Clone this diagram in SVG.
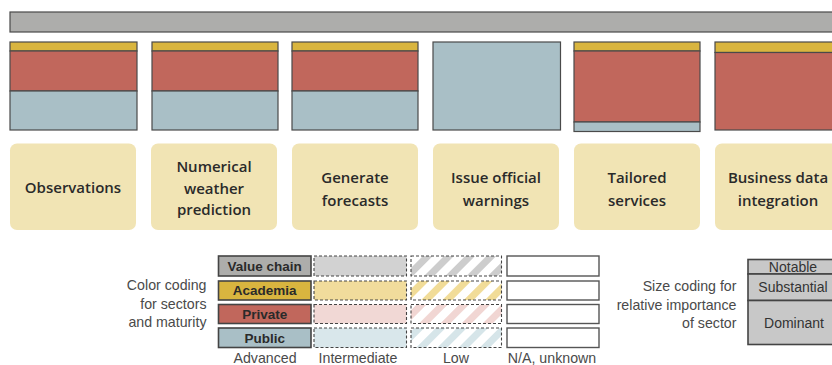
<svg xmlns="http://www.w3.org/2000/svg" width="832" height="365" viewBox="0 0 832 365">
<style>
.seg{stroke:#4a4a4a;stroke-width:1.2}
.g{fill:#adadab}.y{fill:#d9b53f}.r{fill:#c1675c}.b{fill:#a9bfc6}
.lbl{fill:#f1e4b4}
.lt{font-family:"Open Sans","Liberation Sans",sans-serif;font-weight:600;font-size:15px;fill:#2a2a2a;text-anchor:middle}
.lg{font-family:"Liberation Sans","Open Sans",sans-serif;font-size:14.2px;fill:#4a4a4a}
.lb{font-family:"Liberation Sans",sans-serif;font-weight:bold;font-size:13.5px;fill:#2a2a2a;text-anchor:middle}
.sb{stroke:#444;stroke-width:1.6}
.dash{stroke:#444;stroke-width:1.1;stroke-dasharray:3 2}
.na{fill:#fff;stroke:#555;stroke-width:1.4}
.sz{font-family:"Liberation Sans","Open Sans",sans-serif;font-size:14px;fill:#333;text-anchor:middle}
</style>
<defs>
<pattern id="hg" width="15" height="15" patternUnits="userSpaceOnUse" patternTransform="rotate(45)"><rect width="7" height="15" fill="#cdcdcd"/></pattern>
<pattern id="hy" width="15" height="15" patternUnits="userSpaceOnUse" patternTransform="rotate(45)"><rect width="7" height="15" fill="#f1dc98"/></pattern>
<pattern id="hr" width="15" height="15" patternUnits="userSpaceOnUse" patternTransform="rotate(45)"><rect width="7" height="15" fill="#f1d6d3"/></pattern>
<pattern id="hb" width="15" height="15" patternUnits="userSpaceOnUse" patternTransform="rotate(45)"><rect width="7" height="15" fill="#d6e5e9"/></pattern>
</defs>
<rect width="832" height="365" fill="#fff"/>

<g id="value-chain-bar">
<rect class="seg g" x="10" y="12" width="830" height="20"/>
</g>

<g id="col1">
<rect class="seg y" x="10" y="42" width="127" height="9"/>
<rect class="seg r" x="10" y="51" width="127" height="40"/>
<rect class="seg b" x="10" y="91" width="127" height="39"/>
<rect class="lbl" x="10" y="143.5" width="126" height="86.5" rx="7"/>
<text class="lt" x="73" y="193">Observations</text>
</g>
<g id="col2">
<rect class="seg y" x="152" y="42" width="126" height="9"/>
<rect class="seg r" x="152" y="51" width="126" height="40"/>
<rect class="seg b" x="152" y="91" width="126" height="39"/>
<rect class="lbl" x="151" y="143.5" width="126" height="86.5" rx="7"/>
<text class="lt" x="214" y="172">Numerical</text>
<text class="lt" x="214" y="193.5">weather</text>
<text class="lt" x="214" y="215">prediction</text>
</g>
<g id="col3">
<rect class="seg y" x="292" y="42" width="126" height="9"/>
<rect class="seg r" x="292" y="51" width="126" height="40"/>
<rect class="seg b" x="292" y="91" width="126" height="39"/>
<rect class="lbl" x="292" y="143.5" width="126" height="86.5" rx="7"/>
<text class="lt" x="355" y="183">Generate</text>
<text class="lt" x="355" y="205.5">forecasts</text>
</g>
<g id="col4">
<rect class="seg b" x="433" y="42" width="127.5" height="88"/>
<rect class="lbl" x="433" y="143.5" width="126" height="86.5" rx="7"/>
<text class="lt" x="496" y="183">Issue official</text>
<text class="lt" x="496" y="205.5">warnings</text>
</g>
<g id="col5">
<rect class="seg y" x="574" y="42" width="126" height="9"/>
<rect class="seg r" x="574" y="51" width="126" height="71"/>
<rect class="seg b" x="574" y="122" width="126" height="9.5"/>
<rect class="lbl" x="574" y="143.5" width="126" height="86.5" rx="7"/>
<text class="lt" x="637" y="183">Tailored</text>
<text class="lt" x="637" y="205.5">services</text>
</g>
<g id="col6">
<rect class="seg y" x="715" y="42" width="130" height="10.5"/>
<rect class="seg r" x="715" y="52.5" width="130" height="77.5"/>
<rect class="lbl" x="715" y="143.5" width="130" height="86.5" rx="7"/>
<text class="lt" x="778" y="183">Business data</text>
<text class="lt" x="778" y="205.5">integration</text>
</g>

<g id="connectors"></g>

<g id="legend-color">
<text class="lg" text-anchor="end" x="206.5" y="290">Color coding</text>
<text class="lg" text-anchor="end" x="206.5" y="309">for sectors</text>
<text class="lg" text-anchor="end" x="206.5" y="327">and maturity</text>

<rect class="sb g" x="218.5" y="256" width="92.5" height="20"/>
<rect class="sb y" x="218.5" y="281" width="92.5" height="19"/>
<rect class="sb r" x="218.5" y="304.5" width="92.5" height="19"/>
<rect class="sb b" x="218.5" y="328" width="92.5" height="19.5"/>
<text class="lb" x="264.7" y="270.8">Value chain</text>
<text class="lb" x="264.7" y="295.3">Academia</text>
<text class="lb" x="264.7" y="318.8">Private</text>
<text class="lb" x="264.7" y="342.5">Public</text>

<rect class="dash" fill="#d2d2d2" x="314" y="256" width="92.5" height="20"/>
<rect class="dash" fill="#f1dc9c" x="314" y="281" width="92.5" height="19"/>
<rect class="dash" fill="#f1d8d5" x="314" y="304.5" width="92.5" height="19"/>
<rect class="dash" fill="#d9e7eb" x="314" y="328" width="92.5" height="19.5"/>

<rect class="dash" fill="url(#hg)" x="411" y="256" width="90.5" height="20"/>
<rect class="dash" fill="url(#hy)" x="411" y="281" width="90.5" height="19"/>
<rect class="dash" fill="url(#hr)" x="411" y="304.5" width="90.5" height="19"/>
<rect class="dash" fill="url(#hb)" x="411" y="328" width="90.5" height="19.5"/>

<rect class="na" x="507" y="256" width="92" height="20"/>
<rect class="na" x="507" y="281" width="92" height="19"/>
<rect class="na" x="507" y="304.5" width="92" height="19"/>
<rect class="na" x="507" y="328" width="92" height="19.5"/>

<text class="lg" text-anchor="middle" x="265" y="363">Advanced</text>
<text class="lg" text-anchor="middle" x="358" y="363">Intermediate</text>
<text class="lg" text-anchor="middle" x="456" y="363">Low</text>
<text class="lg" text-anchor="middle" x="552" y="363">N/A, unknown</text>
</g>

<g id="legend-size">
<text class="lg" text-anchor="end" x="736.5" y="291">Size coding for</text>
<text class="lg" text-anchor="end" x="736.5" y="309.5">relative importance</text>
<text class="lg" text-anchor="end" x="736.5" y="328">of sector</text>
<rect class="sb" fill="#c8c8c8" x="748" y="259.5" width="100" height="14.5"/>
<rect class="sb" fill="#c8c8c8" x="748" y="274" width="100" height="26.5"/>
<rect class="sb" fill="#c8c8c8" x="748" y="300.5" width="100" height="44"/>
<text class="sz" x="793" y="271.8">Notable</text>
<text class="sz" x="793" y="292.3">Substantial</text>
<text class="sz" x="794" y="327.5">Dominant</text>
</g>
</svg>
